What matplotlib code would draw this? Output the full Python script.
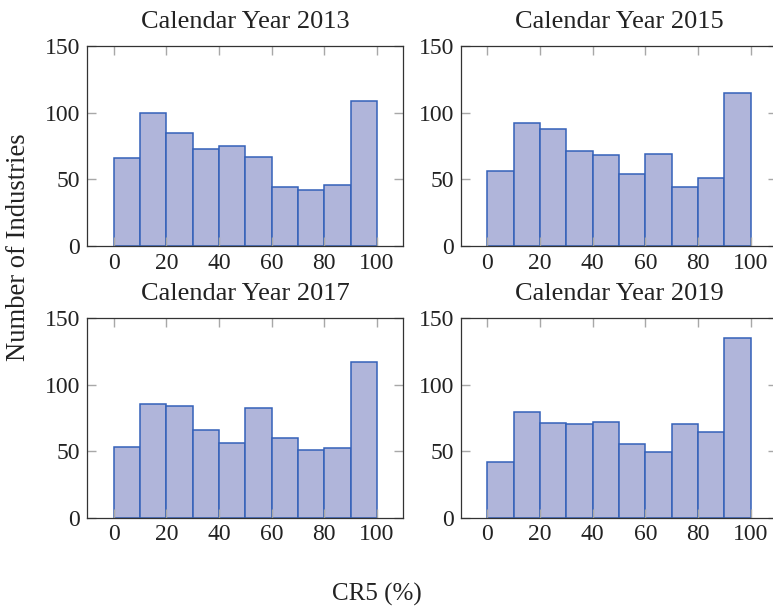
import numpy as np
import matplotlib
matplotlib.use("Agg")
import matplotlib.pyplot as plt

bin_edges = [0, 10, 20, 30, 40, 50, 60, 70, 80, 90, 100]
titles = ["Calendar Year 2013", "Calendar Year 2015", "Calendar Year 2017", "Calendar Year 2019"]
counts_2013 = [66, 100, 85, 73, 75, 67, 44, 42, 46, 109]
counts_2015 = [56, 92, 88, 71, 68, 54, 69, 44, 51, 115]
counts_2017 = [53, 85, 84, 66, 56, 82, 60, 51, 52, 117]
counts_2019 = [42, 79, 71, 70, 72, 55, 49, 70, 64, 135]
x_ticks = [0, 20, 40, 60, 80, 100]
y_ticks = [0, 50, 100, 150]
x_label = "CR5 (%)"
y_label = "Number of Industries"

plt.rcParams['font.family'] = ['Liberation Serif', 'DejaVu Serif']
FS = 17

W, H = 773, 611
fig = plt.figure(figsize=(W / 100, H / 100), dpi=100)

boxes = [
    (87.3, 46, 403.3, 246),
    (461.0, 46, 777.0, 246),
    (87.3, 318, 403.3, 517.5),
    (461.0, 318, 777.0, 517.5),
]
all_counts = [counts_2013, counts_2015, counts_2017, counts_2019]
edges = np.array(bin_edges)
for (x0, y0, x1, y1), counts, title in zip(boxes, all_counts, titles):
    ax = fig.add_axes([x0 / W, 1 - y1 / H, (x1 - x0) / W, (y1 - y0) / H])
    ax.bar(edges[:-1], counts, width=np.diff(edges), align='edge',
           color='#b0b5da', edgecolor='#3461b9', linewidth=1.1, zorder=1)
    ax.set_xlim(-10, 110)
    ax.set_ylim(0, 150)
    ax.set_xticks(x_ticks)
    ax.set_yticks(y_ticks)
    ax.tick_params(direction='in', length=6.5, width=1.0, color='#a8a8a8',
                   top=True, right=True, labelsize=FS, labelcolor='#222222', pad=5)
    for s in ax.spines.values():
        s.set_color('#333333')
        s.set_linewidth(0.9)
    ax.set_title(title, fontsize=19, pad=13, color='#222222')

fig.text(377 / W, 1 - 594 / H, x_label, ha='center', va='center', fontsize=18, color='#222222')
fig.text(18.5 / W, 1 - 247 / H, y_label, ha='center', va='center', rotation=90, fontsize=19.2, color='#222222')

fig.savefig("out.png", dpi=100)
